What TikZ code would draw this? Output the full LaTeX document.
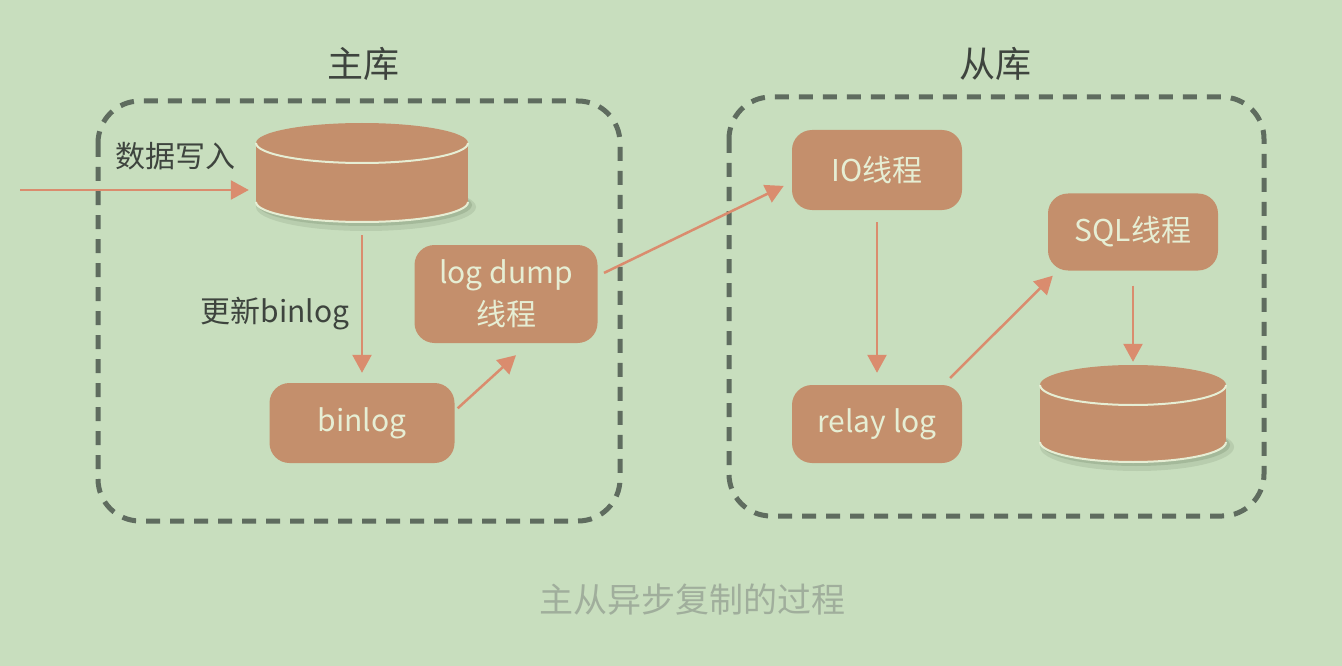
\documentclass[tikz,border=0pt]{standalone}
\usepackage{fontspec}
\usetikzlibrary{arrows.meta,positioning}
\newfontfamily\cjk{Noto Sans CJK SC}
\definecolor{bgGreen}{RGB}{200,222,190}
\definecolor{frameGrey}{RGB}{95,108,95}
\definecolor{boxOrange}{RGB}{196,143,108}
\definecolor{arrowOrange}{RGB}{218,140,110}
\definecolor{creamText}{RGB}{230,238,212}
\definecolor{labelGrey}{RGB}{62,68,62}
\definecolor{captionGrey}{RGB}{160,174,156}
\definecolor{shadowGreen}{RGB}{120,140,110}

\tikzset{
  groupframe/.style={draw=frameGrey,line width=5pt,dash pattern=on 14pt off 10pt,rounded corners=42pt},
  procbox/.style={fill=boxOrange,rounded corners=20pt,text=creamText,font=\cjk\fontsize{30}{42}\selectfont,align=center,inner sep=0pt},
  dbdisk/.style={inner sep=0pt,draw=none},
  rim/.style={draw=creamText,line width=2pt},
  flow/.style={draw=arrowOrange,line width=2.5pt,-{Triangle[length=18pt,width=19pt]}},
  note/.style={text=labelGrey,font=\cjk\fontsize{30}{36}\selectfont},
  grouptitle/.style={text=labelGrey,font=\cjk\fontsize{36}{40}\selectfont},
}

% disk: name, centre x, top y, bottom y, x radius
\newcommand{\drawdisk}[5]{%
  \fill[shadowGreen,opacity=0.2] (#2+4,#4+5) ellipse [x radius={#5pt+4pt}, y radius=24pt];
  \fill[shadowGreen,opacity=0.3] (#2+3,#4+3) ellipse [x radius={#5pt+1pt}, y radius=21pt];
  \fill[boxOrange] (#2-#5,#3) rectangle (#2+#5,#4);
  \fill[boxOrange] (#2,#4) ellipse [x radius=#5pt, y radius=20pt];
  \draw[rim] (#2-#5,#4) arc[start angle=180,end angle=360,x radius=#5pt,y radius=20pt];
  \fill[boxOrange] (#2,#3) ellipse [x radius=#5pt, y radius=20pt];
  \draw[rim] (#2-#5,#3) arc[start angle=180,end angle=360,x radius=#5pt,y radius=20pt];
  \node[dbdisk,minimum width={2*#5pt},minimum height={#4-#3+40}] (#1) at (#2,{(#3+#4)/2}) {};
}

\begin{document}
\begin{tikzpicture}[x=1pt,y=-1pt]
  \useasboundingbox (0,0) rectangle (1342,666);
  \fill[bgGreen] (0,0) rectangle (1342,666);

  % groups
  \draw[groupframe] (98,101) rectangle (620,521);
  \draw[groupframe] (729,97) rectangle (1264,516);
  \node[grouptitle] (mastertitle) at (363,64) {主库};
  \node[grouptitle] (slavetitle) at (995,64) {从库};

  % master side
  \drawdisk{masterdb}{362}{143}{202}{106}
  \node[procbox,minimum width=185pt,minimum height=80pt] (binlog) at (362,423) {binlog};
  \node[procbox,minimum width=183pt,minimum height=98pt] (logdump) at (506,294) {log dump\\线程};

  % slave side
  \node[procbox,minimum width=170pt,minimum height=80pt] (iothread) at (877,170) {IO线程};
  \node[procbox,minimum width=170pt,minimum height=78pt] (relaylog) at (877,424) {relay log};
  \node[procbox,minimum width=170pt,minimum height=77pt] (sqlthread) at (1133,232) {SQL线程};
  \drawdisk{slavedb}{1133}{385}{442}{93}

  % labels
  \node[note] (writelabel) at (175,156) {数据写入};
  \node[note] (updatelabel) at (275,314) {更新binlog};

  % connectors
  \coordinate (writein) at (20,190);
  \draw[flow,shorten >=7pt] (writein) -- (writein -| masterdb.west);
  \draw[flow,shorten <=13pt,shorten >=10pt] (masterdb.south) -- (binlog.north);
  \draw[flow,shorten <=4pt] ([yshift=12pt]binlog.east) -- ([xshift=10pt,yshift=-12pt]logdump.south);
  \draw[flow,shorten <=7pt,shorten >=9pt] ([yshift=18pt]logdump.east) -- ([yshift=-12pt]iothread.west);
  \draw[flow,shorten <=12pt,shorten >=12pt] (iothread.south) -- (relaylog.north);
  \draw[flow,shorten <=4pt] ([xshift=-15pt,yshift=4pt]relaylog.north east) -- ([xshift=5pt,yshift=-5pt]sqlthread.south west);
  \draw[flow,shorten <=15pt,shorten >=3pt] (sqlthread.south) -- (slavedb.north);

  % caption
  \node[text=captionGrey,font=\cjk\fontsize{34}{40}\selectfont] (caption) at (692,600) {主从异步复制的过程};
\end{tikzpicture}
\end{document}
